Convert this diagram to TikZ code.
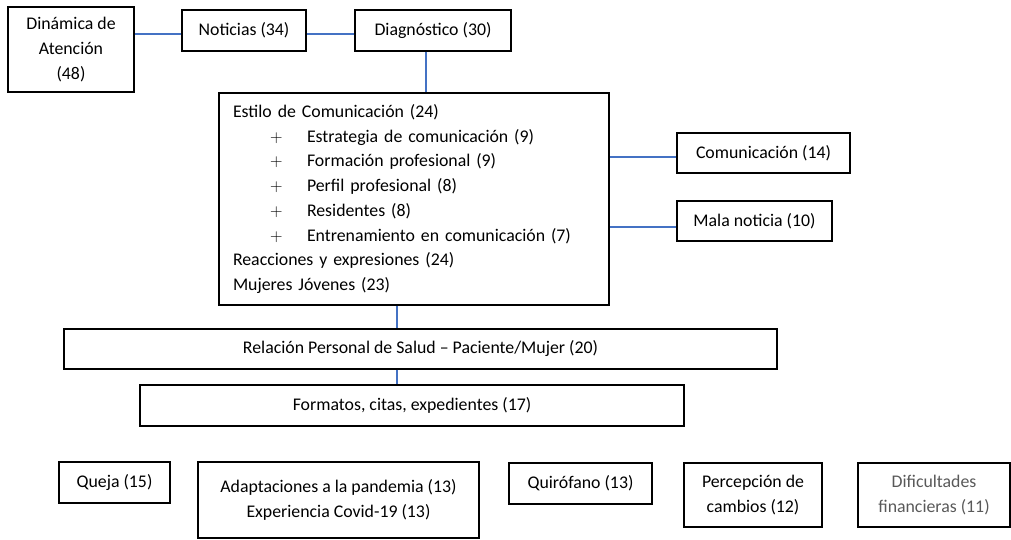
\documentclass[tikz,border=0pt]{standalone}
\usepackage{fontspec}
\setmainfont{Carlito}
\usepackage{xcolor}
\usepackage{tikz}
\definecolor{azul}{HTML}{4472C4}
\newcommand{\tamano}{\fontsize{17.8}{24.7}\selectfont}
\newcommand{\vineta}{\hspace*{37pt}\makebox[37pt][l]{$+$}}

\begin{document}
\begin{tikzpicture}[
    x=1pt, y=-1pt,
    caja/.style={draw, line width=1.2pt, align=center, font=\tamano, inner sep=4pt},
    enlace/.style={draw=azul, line width=1.4pt}
  ]
    \useasboundingbox (0,0) rectangle (1011,539);
    % fila superior
    \node[caja, minimum width=126pt, minimum height=85pt] (dinamica) at (71,49.5) {Dinámica de\\Atención\\(48)};
    \node[caja, minimum width=124pt, minimum height=41pt] (noticias) at (244,30.5) {Noticias (34)};
    \node[caja, minimum width=156pt, minimum height=41pt] (diagnostico) at (433,30.5) {Diagnóstico (30)};
    % caja central
    \node[caja, align=left, text width=362pt, inner xsep=14pt, minimum height=212pt] (estilo) at (414,199)
      {Estilo de Comunicación (24)\\
       \vineta Estrategia de comunicación (9)\\
       \vineta Formación profesional (9)\\
       \vineta Perfil profesional (8)\\
       \vineta Residentes (8)\\
       \vineta Entrenamiento en comunicación (7)\\
       Reacciones y expresiones (24)\\
       Mujeres Jóvenes (23)};
    \node[caja, minimum width=173pt, minimum height=40pt] (comunicacion) at (763.5,153) {Comunicación (14)};
    \node[caja, minimum width=155pt, minimum height=40pt] (mala) at (754.5,221) {Mala noticia (10)};
    \node[caja, minimum width=713pt, minimum height=40pt] (relacion) at (420.5,349) {Relación Personal de Salud -- Paciente/Mujer (20)};
    \node[caja, minimum width=544pt, minimum height=41pt] (formatos) at (412,405.5) {Formatos, citas, expedientes (17)};
    % fila inferior
    \node[caja, minimum width=111pt, minimum height=41pt] (queja) at (114.5,482.5) {Queja (15)};
    \node[caja, minimum width=281pt, minimum height=76pt] (adaptaciones) at (338.5,500) {Adaptaciones a la pandemia (13)\\Experiencia Covid-19 (13)};
    \node[caja, minimum width=143pt, minimum height=41pt] (quirofano) at (580.5,483.5) {Quirófano (13)};
    \node[caja, minimum width=138pt, minimum height=64pt] (percepcion) at (753,495) {Percepción de\\cambios (12)};
    \node[caja, text=black!65, minimum width=152pt, minimum height=64pt] (dificultades) at (934,495) {Dificultades\\financieras (11)};
    % enlaces
    \draw[enlace] ([yshift=-3.5pt]noticias.west) -- ([yshift=-3.5pt]noticias.west -| dinamica.east);
    \draw[enlace] ([yshift=-3.5pt]diagnostico.west) -- ([yshift=-3.5pt]diagnostico.west -| noticias.east);
    \draw[enlace] ([xshift=-7pt]diagnostico.south) -- ([xshift=-7pt]diagnostico.south |- estilo.north);
    \draw[enlace] ([yshift=-4pt]comunicacion.west) -- ([yshift=-4pt]comunicacion.west -| estilo.east);
    \draw[enlace] ([yshift=-6pt]mala.west) -- ([yshift=-6pt]mala.west -| estilo.east);
    \draw[enlace] ([xshift=-17pt]estilo.south) -- ([xshift=-17pt]estilo.south |- relacion.north);
    \draw[enlace] ([xshift=-17pt]estilo.south |- relacion.south) -- ([xshift=-17pt]estilo.south |- formatos.north);
\end{tikzpicture}
\end{document}
